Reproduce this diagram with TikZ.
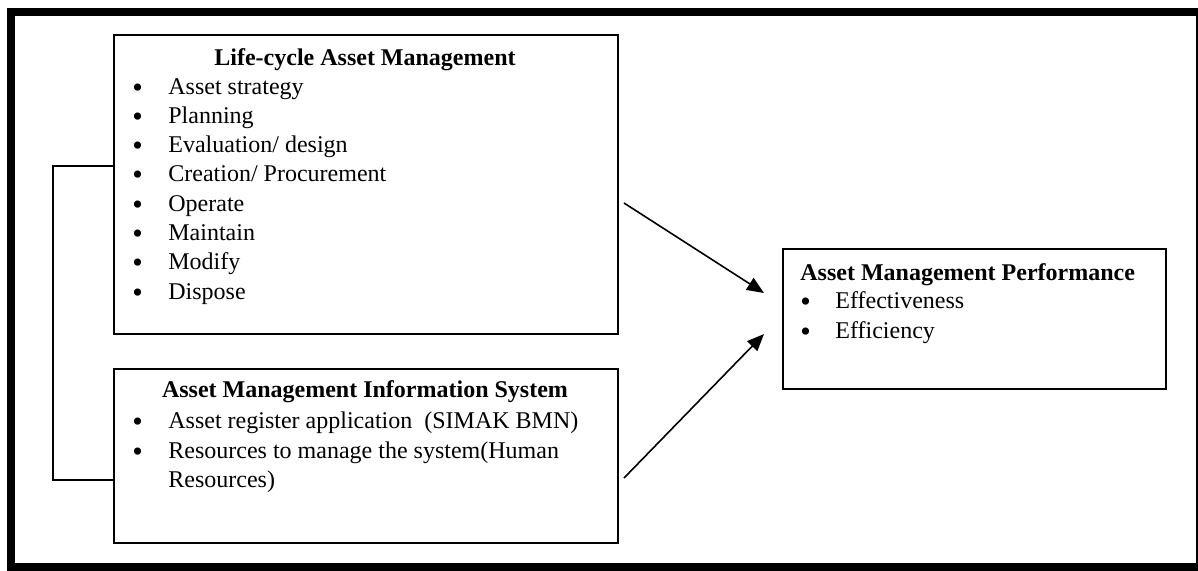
\documentclass[tikz,border=0pt]{standalone}
\usepackage{fontspec}
\setmainfont{Liberation Serif}
\usetikzlibrary{arrows.meta}
\begin{document}
\begin{tikzpicture}[x=0.5pt,y=-0.5pt,
  box/.style={draw, line width=1pt, anchor=north west, inner sep=0pt},
  txt/.style={anchor=base west, inner sep=0pt, font=\fontsize{12}{14}\selectfont},
  ttl/.style={anchor=base, inner sep=0pt, font=\fontsize{12}{14}\selectfont\bfseries},
  bul/.style={anchor=base west, inner sep=0pt, font=\fontsize{15}{15}\selectfont},
  link/.style={line width=1pt},
  arr/.style={line width=0.8pt, -{Triangle[length=8.5pt,width=7pt]}}]
\useasboundingbox (0,0) rectangle (1198,570);
\fill[white] (0,0) rectangle (1198,570);
% outer frame
\draw[line width=4pt] (11,12) rectangle (1200,567);

% boxes
\node[box, minimum width=252pt, minimum height=149.5pt] (b1) at (113,34) {};
\node[box, minimum width=252pt, minimum height=87pt] (b2) at (113,368) {};
\node[box, minimum width=191.5pt, minimum height=70pt] (b3) at (782,248) {};

% life-cycle asset management
\node[ttl] (t1) at (365,65) {Life-cycle Asset Management};
\foreach \s [count=\i from 0] in {Asset strategy,Planning,Evaluation/ design,Creation/ Procurement,Operate,Maintain,Modify,Dispose}{
  \node[bul] (p1\i) at (132,97+29.3*\i) {\textbullet};
  \node[txt] (i1\i) at (168,94+29.3*\i) {\s};
}

% information system
\node[ttl] (t2) at (365,397) {Asset Management Information System};
\node[bul] (p20) at (132,431) {\textbullet};
\node[txt] (i20) at (168,428) {Asset register application\ \ (SIMAK BMN)};
\node[bul] (p21) at (132,461) {\textbullet};
\node[txt] (i21) at (168,458) {Resources to manage the system(Human};
\node[txt] (i22) at (168,487) {Resources)};

% performance
\node[txt, font=\fontsize{12}{14}\selectfont\bfseries] (t3) at (800,280) {Asset Management Performance};
\node[bul] (p30) at (800,311) {\textbullet};
\node[txt] (i30) at (835,308) {Effectiveness};
\node[bul] (p31) at (800,341) {\textbullet};
\node[txt] (i31) at (835,338) {Efficiency};

% connectors
\coordinate (k1) at (53,166);
\coordinate (k2) at (53,480);
\draw[link] (b1.west |- k1) -- (k1) -- (k2) -- (b2.west |- k2);
\coordinate (a1) at (624,203);
\coordinate (e1) at (764,293);
\coordinate (a2) at (624,478);
\coordinate (e2) at (764,334);
\draw[arr] (a1) -- (e1);
\draw[arr] (a2) -- (e2);
\end{tikzpicture}
\end{document}
